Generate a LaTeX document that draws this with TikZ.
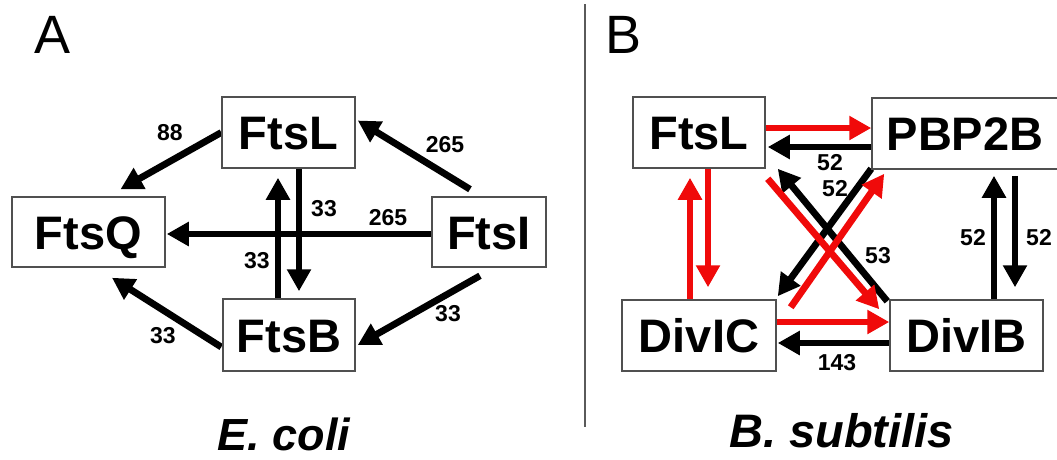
\documentclass[tikz,border=0pt]{standalone}
\usepackage{fontspec}
\setmainfont{Liberation Sans}
\usetikzlibrary{arrows.meta,calc}
\definecolor{arrred}{RGB}{240,10,10}
\definecolor{boxgray}{RGB}{80,80,80}
\definecolor{divgray}{RGB}{90,90,90}
\pgfdeclarelayer{background}
\pgfdeclarelayer{paper}
\pgfsetlayers{paper,background,main}
\begin{document}
\begin{tikzpicture}[x=1pt,y=-1pt,
  box/.style={draw=boxgray, line width=1.5pt, fill=white, inner sep=0pt,
    font=\fontsize{47}{47}\selectfont\bfseries, text height=34pt, text depth=0pt},
  num/.style={inner sep=0pt, font=\fontsize{23}{23}\selectfont\bfseries,
    text height=16.5pt, text depth=0pt},
  arr/.style={line width=6.8pt, -{Triangle[length=22pt,width=23pt]}},
  blk/.style={arr, draw=black, fill=black},
  rd/.style={arr, draw=arrred, fill=arrred},
  ttl/.style={anchor=base, inner sep=0pt},
]
\useasboundingbox (0,0) rectangle (1057,459);
\begin{pgfonlayer}{paper}
\fill[white] (0,0) rectangle (1057,459);
\end{pgfonlayer}

% ---------- Panel A ----------
\node[box, minimum width=133pt, minimum height=71pt] (AL) at (288.5,132.5) {FtsL};
\node[box, minimum width=153pt, minimum height=70pt] (AQ) at (88.5,232) {FtsQ};
\node[box, minimum width=114pt, minimum height=70pt] (AI) at (489,232) {FtsI};
\node[box, minimum width=132pt, minimum height=72pt] (AB) at (289,335) {FtsB};

\begin{pgfonlayer}{background}
\draw[blk] (AL.west) -- ($(AQ.north)+(32,-7)$);
\draw[blk] ($(AI.north)+(-19,-7)$) -- ($(AL.east)+(2,-12)$);
\draw[blk] ($(AI.west)+(0,2)$) -- ($(AQ.east)+(1,2)$);
\draw[blk] ($(AL.south)+(10.5,0)$) -- ($(AB.north)+(10,-7)$);
\draw[blk] ($(AB.north)+(-11,0)$) -- ($(AL.south)+(-10.5,9)$);
\draw[blk] ($(AI.south)+(-9,8)$) -- ($(AB.east)+(2,10)$);
\draw[blk] ($(AB.west)+(-1,12)$) -- ($(AQ.south)+(23.5,10)$);
\end{pgfonlayer}

\node[num] (a1) at (170,132) {88};
\node[num] (a2) at (445,144) {265};
\node[num] (a3) at (388,217) {265};
\node[num] (a4) at (324,208) {33};
\node[num] (a5) at (257,260) {33};
\node[num] (a6) at (448,313) {33};
\node[num] (a7) at (163,335) {33};

% ---------- Panel B ----------
\node[box, minimum width=132pt, minimum height=71pt] (BL) at (699,132.5) {FtsL};
\node[box, minimum width=186pt, minimum height=71pt] (BP) at (965,133.5) {PBP2B};
\node[box, minimum width=154pt, minimum height=71pt] (BC) at (699,335.5) {DivIC};
\node[box, minimum width=153pt, minimum height=71pt] (BB) at (966.5,335.5) {DivIB};

\begin{pgfonlayer}{background}
% black
\draw[blk] ($(BP.west)+(0,13.5)$) -- ($(BL.east)+(2,14.5)$);
\draw[blk] ($(BB.west)+(0,7.5)$) -- ($(BC.east)+(1,7.5)$);
\draw[blk] ($(BP.south)+(50,6)$) -- ($(BB.north)+(48.5,-12)$);
\draw[blk] ($(BB.north)+(27.5,0)$) -- ($(BP.south)+(29,6)$);
\draw[blk] ($(BP.south west)+(0,-1)$) -- ($(BC.north east)+(1,-3)$);
\draw[blk] ($(BB.north west)+(-2,2)$) -- ($(BL.south east)+(12,0)$);
% red
\draw[rd] ($(BL.east)+(0,-4.5)$) -- ($(BP.west)+(0,-5.5)$);
\draw[rd] ($(BL.south)+(9,0)$) -- ($(BC.north)+(9,-12)$);
\draw[rd] ($(BC.north)+(-9,0)$) -- ($(BL.south)+(-9,9)$);
\draw[rd] ($(BC.east)+(0,-13.5)$) -- ($(BB.west)+(0,-13.5)$);
\draw[rd] ($(BC.north east)+(14,8)$) -- ($(BP.south west)+(13,4)$);
\draw[rd] ($(BL.south east)+(2,10)$) -- ($(BB.north west)+(-10,10)$);
\end{pgfonlayer}

\node[num] (b1) at (830,162) {52};
\node[num] (b2) at (835,188) {52};
\node[num] (b3) at (878,255) {53};
\node[num] (b4) at (837,362) {143};
\node[num] (b5) at (973,237) {52};
\node[num] (b6) at (1039,237) {52};

% ---------- divider and titles ----------
\draw[divgray, line width=1.5pt] (585,4) -- (585,427);
\node[ttl, font=\fontsize{54}{54}\selectfont] (tA) at (53,53) {A};
\node[ttl, font=\fontsize{54}{54}\selectfont] (tB) at (624,53) {B};
\node[ttl, font=\fontsize{45}{45}\selectfont\bfseries\itshape] (tE) at (284,450) {E. coli};
\node[ttl, font=\fontsize{47}{47}\selectfont\bfseries\itshape] (tS) at (841.5,447) {B. subtilis};
\end{tikzpicture}
\end{document}
